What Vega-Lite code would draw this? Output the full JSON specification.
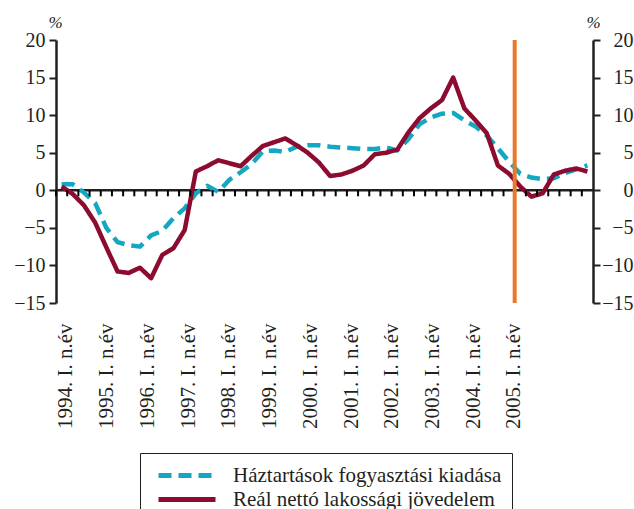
{
  "$schema": "https://vega.github.io/schema/vega-lite/v6.json",
  "width": 537,
  "height": 263,
  "autosize": {"type": "none"},
  "padding": {"left": 56, "top": 40, "right": 41, "bottom": 206},
  "background": "white",
  "config": {
    "view": {"stroke": null},
    "axis": {"grid": false, "labelFont": "Liberation Serif", "titleFont": "Liberation Serif", "labelColor": "#231f20", "titleColor": "#231f20", "domainColor": "#231f20", "tickColor": "#231f20"},
    "legend": {
      "orient": "none", "legendX": 84, "legendY": 413, "direction": "vertical",
      "strokeColor": "#231f20", "fillColor": "white", "padding": 10,
      "labelFont": "Liberation Serif", "labelFontSize": 21, "labelColor": "#231f20", "labelLimit": 600,
      "symbolType": "M-2.85,0H2.85", "symbolSize": 400, "symbolStrokeWidth": 5, "symbolOffset": 24.5,
      "labelOffset": 33.5, "rowPadding": 1, "title": null
    }
  },
  "datasets": {
    "negyedevek": [
      {"t": 1994.0, "kiadas": 0.8, "jovedelem": 0.5},
      {"t": 1994.25, "kiadas": 0.8, "jovedelem": -0.5},
      {"t": 1994.5, "kiadas": -0.3, "jovedelem": -2.0},
      {"t": 1994.75, "kiadas": -1.7, "jovedelem": -4.3},
      {"t": 1995.0, "kiadas": -5.0, "jovedelem": -7.6},
      {"t": 1995.25, "kiadas": -6.9, "jovedelem": -10.8},
      {"t": 1995.5, "kiadas": -7.3, "jovedelem": -11.0},
      {"t": 1995.75, "kiadas": -7.5, "jovedelem": -10.3},
      {"t": 1996.0, "kiadas": -6.0, "jovedelem": -11.7},
      {"t": 1996.25, "kiadas": -5.4, "jovedelem": -8.6},
      {"t": 1996.5, "kiadas": -3.7, "jovedelem": -7.7},
      {"t": 1996.75, "kiadas": -2.4, "jovedelem": -5.3},
      {"t": 1997.0, "kiadas": -0.4, "jovedelem": 2.5},
      {"t": 1997.25, "kiadas": 0.6, "jovedelem": 3.2},
      {"t": 1997.5, "kiadas": -0.2, "jovedelem": 4.0},
      {"t": 1997.75, "kiadas": 1.4, "jovedelem": 3.6},
      {"t": 1998.0, "kiadas": 2.4, "jovedelem": 3.2},
      {"t": 1998.25, "kiadas": 3.5, "jovedelem": 4.6},
      {"t": 1998.5, "kiadas": 5.2, "jovedelem": 5.9},
      {"t": 1998.75, "kiadas": 5.3, "jovedelem": 6.4},
      {"t": 1999.0, "kiadas": 5.1, "jovedelem": 6.9},
      {"t": 1999.25, "kiadas": 5.8, "jovedelem": 6.0},
      {"t": 1999.5, "kiadas": 6.0, "jovedelem": 5.0},
      {"t": 1999.75, "kiadas": 6.0, "jovedelem": 3.7},
      {"t": 2000.0, "kiadas": 5.8, "jovedelem": 1.9},
      {"t": 2000.25, "kiadas": 5.7, "jovedelem": 2.1},
      {"t": 2000.5, "kiadas": 5.6, "jovedelem": 2.6},
      {"t": 2000.75, "kiadas": 5.5, "jovedelem": 3.3},
      {"t": 2001.0, "kiadas": 5.5, "jovedelem": 4.8},
      {"t": 2001.25, "kiadas": 5.7, "jovedelem": 5.0},
      {"t": 2001.5, "kiadas": 5.3, "jovedelem": 5.4},
      {"t": 2001.75, "kiadas": 6.8, "jovedelem": 7.7},
      {"t": 2002.0, "kiadas": 8.8, "jovedelem": 9.6},
      {"t": 2002.25, "kiadas": 9.7, "jovedelem": 10.9},
      {"t": 2002.5, "kiadas": 10.2, "jovedelem": 12.0},
      {"t": 2002.75, "kiadas": 10.3, "jovedelem": 15.0},
      {"t": 2003.0, "kiadas": 9.3, "jovedelem": 10.9},
      {"t": 2003.25, "kiadas": 8.5, "jovedelem": 9.3},
      {"t": 2003.5, "kiadas": 7.3, "jovedelem": 7.6},
      {"t": 2003.75, "kiadas": 5.6, "jovedelem": 3.3},
      {"t": 2004.0, "kiadas": 3.8, "jovedelem": 2.2},
      {"t": 2004.25, "kiadas": 2.2, "jovedelem": 0.5},
      {"t": 2004.5, "kiadas": 1.7, "jovedelem": -0.85},
      {"t": 2004.75, "kiadas": 1.5, "jovedelem": -0.4},
      {"t": 2005.0, "kiadas": 1.6, "jovedelem": 2.1},
      {"t": 2005.25, "kiadas": 2.3, "jovedelem": 2.6},
      {"t": 2005.5, "kiadas": 2.8, "jovedelem": 2.9},
      {"t": 2005.75, "kiadas": 3.3, "jovedelem": 2.5}
    ]
  },
  "layer": [
    {
      "data": {"values": [{"v": 0}]},
      "mark": {"type": "rule", "stroke": "#231f20", "strokeWidth": 2.5},
      "encoding": {
        "y": {"field": "v", "type": "quantitative", "scale": {"domain": [-15, 20], "nice": false, "zero": false},
          "axis": {"orient": "right", "values": [-15, -10, -5, 0, 5, 10, 15, 20], "tickSize": 7, "tickWidth": 2, "domainWidth": 2.5, "labelFontSize": 20, "labelAlign": "right", "labelPadding": 33, "title": "%", "titleAngle": 0, "titleFontStyle": "italic", "titleFontWeight": "normal", "titleFontSize": 17, "titleX": 0, "titleY": -18, "titleAlign": "center", "titleBaseline": "middle"}}
      }
    },
    {
      "data": {"name": "negyedevek"},
      "transform": [{"fold": ["kiadas", "jovedelem"], "as": ["sorozat", "v"]}],
      "mark": {"type": "line", "strokeWidth": 4.5, "strokeJoin": "round"},
      "encoding": {
        "x": {"field": "t", "type": "quantitative", "scale": {"domain": [1993.875, 2005.875], "nice": false, "zero": false},
          "axis": {"orient": "bottom", "domain": false, "ticks": false, "tickSize": 0, "labelPadding": 20, "labelAngle": -90, "labelAlign": "right", "labelBaseline": "middle", "labelFontSize": 21,
            "values": [1994.098, 1995.008, 1995.918, 1996.828, 1997.738, 1998.649, 1999.559, 2000.469, 2001.379, 2002.289, 2003.199, 2004.109],
            "labelExpr": "(1994 + round((datum.value - 1994.098) / 0.9101)) + '. I. n.év'", "title": null}},
        "y": {"field": "v", "type": "quantitative", "scale": {"domain": [-15, 20], "nice": false, "zero": false},
          "axis": {"orient": "left", "values": [-15, -10, -5, 0, 5, 10, 15, 20], "tickSize": 7, "tickWidth": 2, "domainWidth": 2.5, "labelFontSize": 20, "labelPadding": 4, "title": "%", "titleAngle": 0, "titleFontStyle": "italic", "titleFontWeight": "normal", "titleFontSize": 17, "titleX": -1, "titleY": -18, "titleAlign": "center", "titleBaseline": "middle"}},
        "color": {"field": "sorozat", "type": "nominal", "scale": {"domain": ["kiadas", "jovedelem"], "range": ["#14a7c2", "#8c0b2f"]},
          "legend": {"labelExpr": "datum.label == 'kiadas' ? 'Háztartások fogyasztási kiadása' : 'Reál nettó lakossági jövedelem'"}},
        "strokeDash": {"field": "sorozat", "type": "nominal", "scale": {"domain": ["kiadas", "jovedelem"], "range": [[13, 7], [1, 0]]},
          "legend": {"labelExpr": "datum.label == 'kiadas' ? 'Háztartások fogyasztási kiadása' : 'Reál nettó lakossági jövedelem'"}}
      }
    },
    {
      "data": {"name": "negyedevek"},
      "mark": {"type": "rule", "stroke": "#000000", "strokeWidth": 2, "xOffset": -5.59},
      "encoding": {
        "x": {"field": "t", "type": "quantitative", "axis": null},
        "y": {"datum": 0, "type": "quantitative", "axis": null},
        "y2": {"datum": -0.8}
      }
    },
    {
      "data": {"values": [{"t": 2004.125}]},
      "mark": {"type": "rule", "stroke": "#e8782a", "strokeWidth": 4},
      "encoding": {
        "x": {"field": "t", "type": "quantitative", "axis": null}
      }
    }
  ],
  "resolve": {"axis": {"x": "independent", "y": "independent"}}
}
